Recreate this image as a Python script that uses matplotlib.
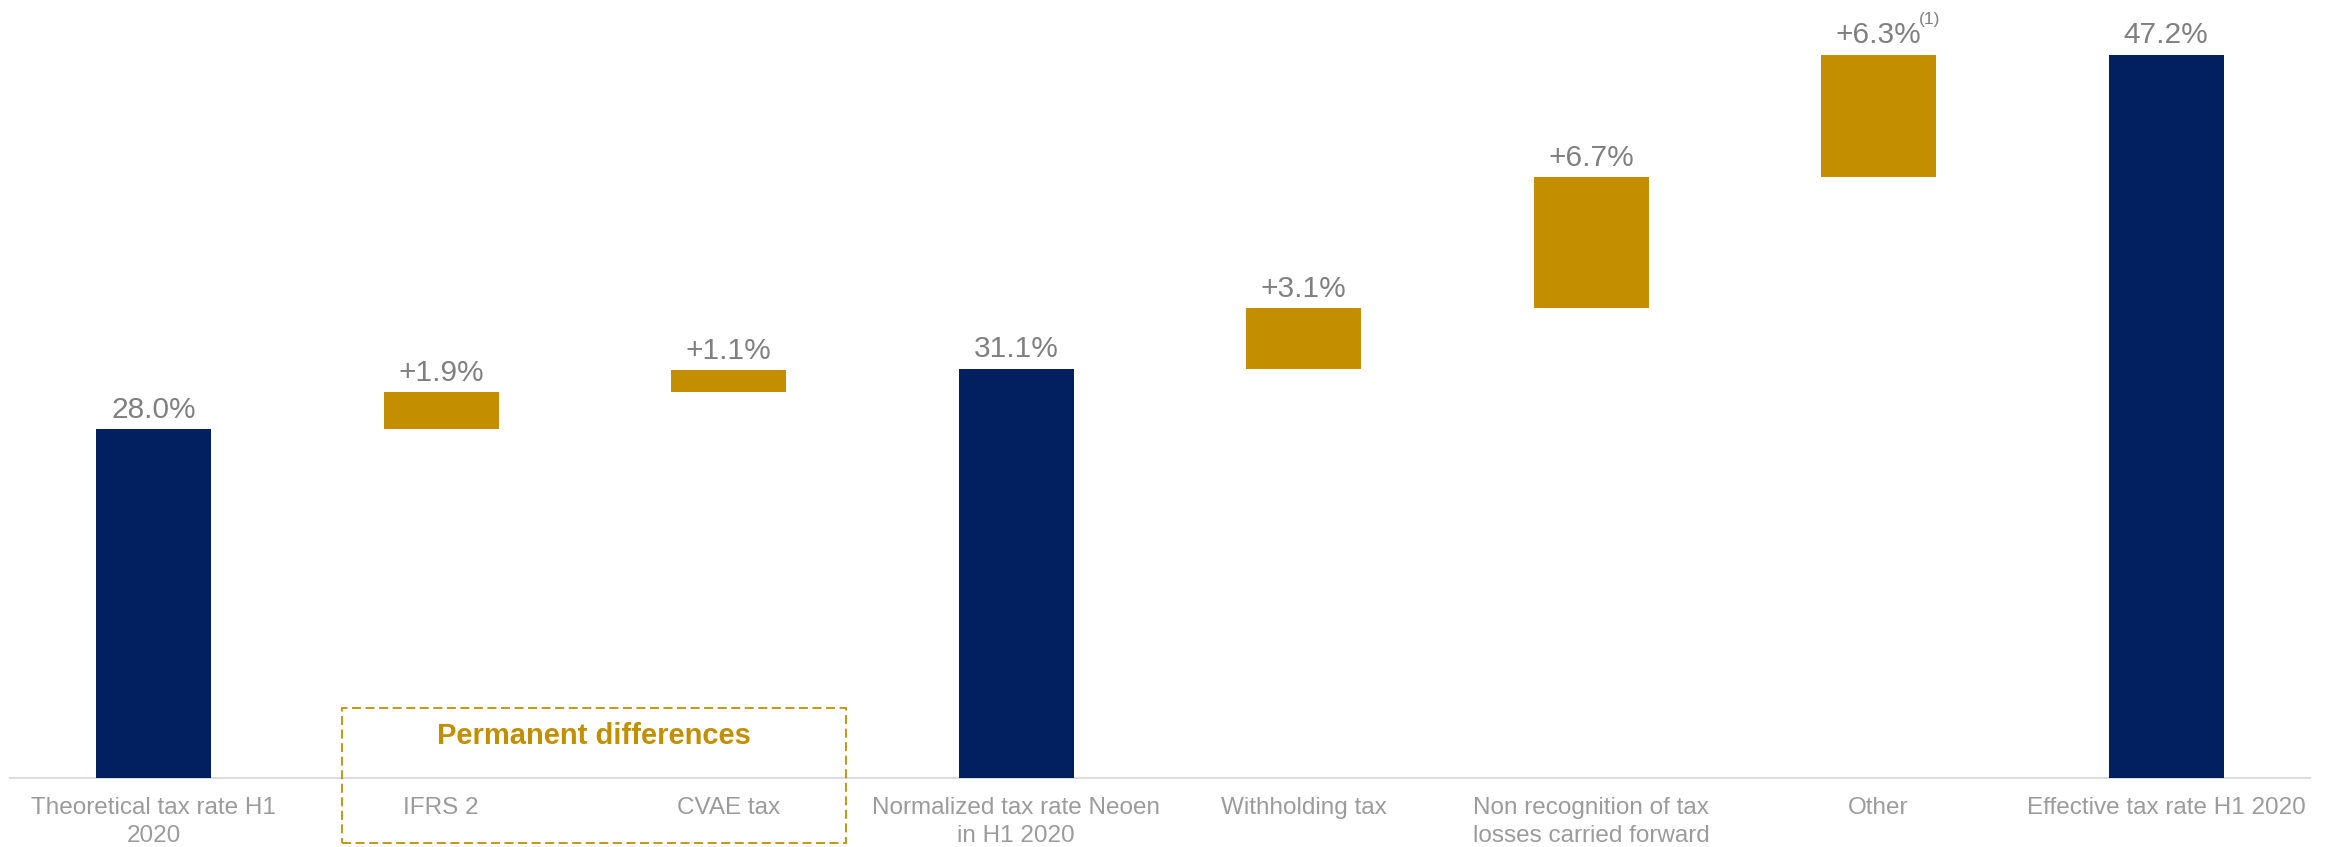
import matplotlib
matplotlib.use('Agg')
import matplotlib.pyplot as plt
from matplotlib.patches import Rectangle

plt.rcParams['font.family'] = ['Liberation Sans', 'DejaVu Sans']

categories = ['Theoretical tax rate H1\n2020', 'IFRS 2', 'CVAE tax',
              'Normalized tax rate Neoen\nin H1 2020', 'Withholding tax',
              'Non recognition of tax\nlosses carried forward', 'Other',
              'Effective tax rate H1 2020']
# 'total' bars start from the axis, 'step' bars float on the running total
kinds = ['total', 'step', 'step', 'total', 'step', 'step', 'step', 'total']
values = [28.0, 1.9, 1.1, 31.1, 3.1, 6.7, 6.3, 47.2]
labels = ['28.0%', '+1.9%', '+1.1%', '31.1%', '+3.1%', '+6.7%', '+6.3%', '47.2%']
footnote = '(1)'
group_title = 'Permanent differences'

NAVY = '#022060'
GOLD = '#c38f00'
VALUE_GREY = '#808080'
LABEL_GREY = '#9b9b9b'

y_min, y_max = 10.1, 50.0

fig = plt.figure(figsize=(23.36, 8.47), dpi=100)
ax = fig.add_axes([0.0042, 0.0815, 0.9846, 0.9185])

running = 0.0
for i, (kind, v) in enumerate(zip(kinds, values)):
    if kind == 'total':
        bottom, height, color = y_min, v - y_min, NAVY
        running = v
    else:
        bottom, height, color = running, v, GOLD
        running += v
    ax.bar(i, height, bottom=bottom, width=0.4, color=color, zorder=3)
    ax.annotate(labels[i], (i, bottom + height), xytext=(0, 8),
                textcoords='offset points', ha='center', va='baseline',
                fontsize=21.5, color=VALUE_GREY)
    if i == 6:
        ax.annotate(footnote, (i, bottom + height), xytext=(29, 22),
                    textcoords='offset points', ha='left', va='baseline',
                    fontsize=12.5, color=VALUE_GREY)

ax.set_xlim(-0.5, len(categories) - 0.5)
ax.set_ylim(y_min, y_max)
ax.set_xticks(range(len(categories)))
ax.set_xticklabels(categories, fontsize=17.5, color=LABEL_GREY,
                   linespacing=1.3)
ax.tick_params(axis='x', length=0, pad=14)
ax.set_yticks([])
for side in ['top', 'left', 'right']:
    ax.spines[side].set_visible(False)
ax.spines['bottom'].set_color('#dcdcdc')
ax.spines['bottom'].set_linewidth(1.5)

# dashed frame around the two permanent-difference items
box = Rectangle((0.654, 6.75), 2.407 - 0.654, 13.7 - 6.75, fill=False,
                edgecolor=GOLD, linewidth=1.3, linestyle=(0, (5, 2.5)),
                clip_on=False, zorder=4)
ax.add_patch(box)
ax.text(1.53, 12.25, group_title, ha='center', va='center', fontsize=21,
        fontweight='bold', color=GOLD)

fig.savefig('out.png', dpi=100)
